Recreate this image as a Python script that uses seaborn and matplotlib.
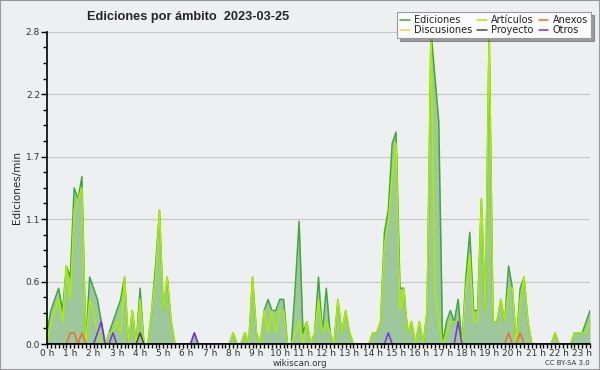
import numpy as np
import pandas as pd
import matplotlib
matplotlib.use("Agg")
import matplotlib.pyplot as plt
import seaborn as sns
from matplotlib.ticker import MultipleLocator, FixedLocator, FuncFormatter

# edits per minute, 10-minute bins from 00:00 to 23:20
ediciones = [
    0.1, 0.3, 0.4, 0.5, 0.3, 0.7, 0.6, 1.4, 1.3, 1.5,
    0.0, 0.6, 0.5, 0.4, 0.2, 0.0, 0.1, 0.2, 0.3, 0.4,
    0.6, 0.0, 0.3, 0.0, 0.5, 0.0, 0.0, 0.3, 0.7, 1.2,
    0.3, 0.6, 0.2, 0.0, 0.0, 0.0, 0.0, 0.0, 0.1, 0.0,
    0.0, 0.0, 0.0, 0.0, 0.0, 0.0, 0.0, 0.0, 0.1, 0.0,
    0.0, 0.1, 0.0, 0.6, 0.1, 0.0, 0.3, 0.4, 0.3, 0.3,
    0.4, 0.4, 0.0, 0.0, 0.5, 1.1, 0.1, 0.2, 0.0, 0.1,
    0.6, 0.1, 0.5, 0.1, 0.0, 0.4, 0.1, 0.3, 0.1, 0.0,
    0.0, 0.0, 0.0, 0.0, 0.1, 0.1, 0.2, 1.0, 1.2, 1.8,
    1.9, 0.5, 0.5, 0.1, 0.2, 0.0, 0.2, 0.0, 0.3, 2.8,
    2.4, 2.0, 0.0, 0.2, 0.3, 0.2, 0.4, 0.0, 0.6, 1.0,
    0.3, 0.3, 1.3, 0.3, 2.8, 0.2, 0.2, 0.4, 0.2, 0.7,
    0.5, 0.0, 0.5, 0.6, 0.2, 0.0, 0.0, 0.0, 0.0, 0.0,
    0.0, 0.1, 0.0, 0.0, 0.0, 0.0, 0.1, 0.1, 0.1, 0.2,
    0.3,
]
articulos = [
    0.0, 0.2, 0.3, 0.4, 0.2, 0.7, 0.4, 1.2, 1.3, 1.4,
    0.0, 0.4, 0.3, 0.1, 0.0, 0.0, 0.1, 0.1, 0.2, 0.1,
    0.6, 0.0, 0.3, 0.0, 0.4, 0.0, 0.0, 0.3, 0.6, 1.2,
    0.3, 0.6, 0.2, 0.0, 0.0, 0.0, 0.0, 0.0, 0.0, 0.0,
    0.0, 0.0, 0.0, 0.0, 0.0, 0.0, 0.0, 0.0, 0.1, 0.0,
    0.0, 0.1, 0.0, 0.6, 0.1, 0.0, 0.3, 0.1, 0.3, 0.1,
    0.3, 0.3, 0.0, 0.0, 0.1, 0.2, 0.0, 0.2, 0.0, 0.1,
    0.4, 0.1, 0.2, 0.1, 0.0, 0.4, 0.1, 0.3, 0.1, 0.0,
    0.0, 0.0, 0.0, 0.0, 0.1, 0.1, 0.2, 0.9, 1.1, 1.5,
    1.8, 0.3, 0.5, 0.1, 0.2, 0.0, 0.2, 0.0, 0.3, 2.8,
    0.5, 0.2, 0.0, 0.1, 0.2, 0.2, 0.2, 0.0, 0.5, 0.8,
    0.2, 0.2, 1.3, 0.3, 2.8, 0.2, 0.2, 0.4, 0.2, 0.5,
    0.5, 0.0, 0.4, 0.6, 0.2, 0.0, 0.0, 0.0, 0.0, 0.0,
    0.0, 0.1, 0.0, 0.0, 0.0, 0.0, 0.1, 0.1, 0.1, 0.1,
    0.2,
]
n = len(ediciones)
anexos = [0.0] * n
for i in [6, 7, 9, 119, 122]:
    anexos[i] = 0.1
discusiones = [0.0] * n
proyecto = [0.0] * n
proyecto[24] = 0.1
otros = [0.0] * n
for i, v in [(13, 0.1), (14, 0.2), (17, 0.1), (38, 0.1), (88, 0.1), (106, 0.2)]:
    otros[i] = v

hours = np.arange(n) / 6.0
hour_labels = [f"{h} h" for h in range(24)]

sns.set_style("ticks")
plt.rcParams["font.family"] = ["DejaVu Sans"]

bg = "#eeeff1"
fig = plt.figure(figsize=(6, 3.7), dpi=100, facecolor=bg)
ax = fig.add_axes([47 / 600, 26 / 370, 543 / 600, 312.3 / 370])
ax.set_facecolor(bg)

# fill under total edits
ax.fill_between(hours, ediciones, color="#9cc89c", linewidth=0, zorder=1)

series = [
    ("Ediciones", ediciones, "#3ea83e"),
    ("Discusiones", discusiones, "#f5d43a"),
    ("Artículos", articulos, "#aaee00"),
    ("Proyecto", proyecto, "#4a4a4a"),
    ("Anexos", anexos, "#ef6f2e"),
    ("Otros", otros, "#7a2ee8"),
]
for name, vals, col in series:
    sns.lineplot(x=hours, y=vals, color=col, linewidth=1.1, label=name, ax=ax,
                 zorder=3 if name != "Ediciones" else 2)

ax.set_xlim(0, hours[-1])
ax.set_ylim(0, 2.8)

yt = np.arange(0, 2.81, 0.56)
ax.yaxis.set_major_locator(FixedLocator(yt))
ax.yaxis.set_major_formatter(FuncFormatter(lambda v, p: f"{v:.1f}"))
ax.yaxis.set_minor_locator(MultipleLocator(0.14))
ax.xaxis.set_major_locator(FixedLocator(range(24)))
ax.set_xticklabels(hour_labels)
ax.xaxis.set_minor_locator(MultipleLocator(1 / 6))

ax.grid(axis="y", color="#c8c8c8", linewidth=0.9)
ax.grid(axis="x", visible=False)
ax.tick_params(axis="y", which="major", length=4, width=1, color="black",
               labelsize=6.5, labelcolor="#333333", pad=1)
ax.tick_params(axis="x", which="major", length=3, width=1, color="black",
               labelsize=6.5, labelcolor="#333333", pad=0.5)
ax.tick_params(axis="both", which="minor", length=3, width=1, color="black")

sns.despine(ax=ax)
for s in ["left", "bottom"]:
    ax.spines[s].set_linewidth(1.2)
    ax.spines[s].set_color("black")
    ax.spines[s].set_zorder(5)

ax.set_xlabel("")
ax.set_ylabel("Ediciones/min", fontsize=7.5, labelpad=3)

leg = ax.legend(loc="upper right", bbox_to_anchor=(591 / 600, 1 - 12 / 370),
                bbox_transform=fig.transFigure, ncol=3, fontsize=7,
                frameon=True, fancybox=False, shadow=True, handlelength=1.0,
                handletextpad=0.45, columnspacing=0.5, labelspacing=0.0,
                borderpad=0.3, borderaxespad=0)
leg.get_frame().set_facecolor("#fbfbfb")
leg.get_frame().set_edgecolor("#9a9a9a")
leg.get_frame().set_linewidth(0.8)
for t in leg.get_texts():
    t.set_color("#222222")

fig.text(188 / 600, 1 - 17 / 370, "Ediciones por ámbito  2023-03-25",
         ha="center", va="center", fontsize=9.2, fontweight="bold",
         family="Liberation Sans")
fig.text(0.5, 1 - 363 / 370, "wikiscan.org", ha="center", va="center",
         fontsize=6.3, color="#333333")
fig.text(590 / 600, 1 - 363 / 370, "CC BY-SA 3.0", ha="right", va="center",
         fontsize=5, color="#333333")

fig.patches.append(plt.Rectangle((0, 0), 1, 1, transform=fig.transFigure,
                                 fill=False, edgecolor="#9a9a9a", linewidth=1.5))

fig.savefig("out.png", dpi=100, facecolor=bg)
